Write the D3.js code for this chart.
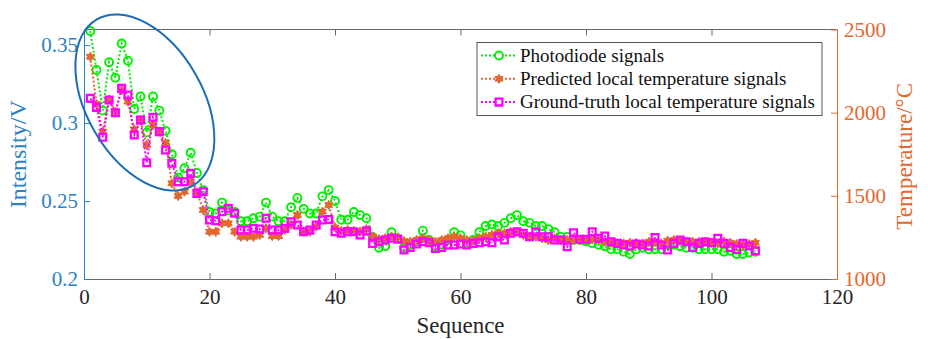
<!DOCTYPE html>
<html>
<head>
<meta charset="utf-8">
<script src="https://cdn.jsdelivr.net/npm/d3@7"></script>
<style>
  body { margin: 0; background: #fff; }
  svg text { font-family: "Liberation Serif", "DejaVu Serif", serif; }
</style>
</head>
<body>
<div id="chart"></div>
<script>
// photodiode intensity (V), sequence 1..107
var photodiode = [
  0.359, 0.334, 0.308, 0.339, 0.329, 0.351, 0.340, 0.309, 0.317, 0.294,
  0.317, 0.308, 0.295, 0.280, 0.265, 0.271, 0.281, 0.268, 0.257, 0.243,
  0.242, 0.249, 0.244, 0.243, 0.237, 0.237, 0.239, 0.240, 0.249, 0.240,
  0.237, 0.237, 0.246, 0.252, 0.245, 0.242, 0.242, 0.253, 0.257, 0.250,
  0.238, 0.238, 0.243, 0.241, 0.239, 0.227, 0.220, 0.221, 0.230, 0.226,
  0.220, 0.222, 0.224, 0.231, 0.225, 0.221, 0.222, 0.225, 0.230, 0.228,
  0.223, 0.225, 0.230, 0.234, 0.235, 0.234, 0.236, 0.239, 0.241, 0.237,
  0.236, 0.234, 0.234, 0.232, 0.230, 0.227, 0.227, 0.225, 0.225, 0.224,
  0.223, 0.222, 0.221, 0.219, 0.219, 0.2175, 0.216, 0.219, 0.220, 0.219,
  0.219, 0.219, 0.222, 0.222, 0.221, 0.220, 0.220, 0.219, 0.219, 0.219,
  0.219, 0.2175, 0.218, 0.216, 0.216, 0.217, 0.2175
];
// predicted local temperature (°C)
var predicted = [
  2336, 2052, 1886, 2080, 2006, 2136, 2066, 1900, 1956, 1806,
  1926, 1886, 1818, 1575, 1499, 1525, 1585, 1520, 1415, 1284,
  1284, 1335, 1335, 1284, 1254, 1254, 1254, 1265, 1305, 1258,
  1258, 1295, 1325, 1385, 1284, 1284, 1315, 1405, 1445, 1310,
  1290, 1295, 1290, 1285, 1300, 1256, 1240, 1245, 1255, 1250,
  1228, 1224, 1234, 1245, 1234, 1224, 1234, 1245, 1255, 1245,
  1234, 1230, 1245, 1254, 1265, 1275, 1275, 1284, 1284, 1265,
  1254, 1254, 1245, 1234, 1245, 1234, 1234, 1234, 1234, 1234,
  1238, 1234, 1224, 1218, 1214, 1214, 1218, 1218, 1214, 1224,
  1224, 1214, 1230, 1234, 1230, 1224, 1224, 1224, 1224, 1218,
  1214, 1224, 1218, 1210, 1204, 1210, 1218
];
// ground-truth local temperature (°C)
var groundTruth = [
  2086, 2032, 1852, 2076, 2000, 2146, 2106, 1866, 1956, 1699,
  1972, 1886, 1776, 1696, 1585, 1585, 1635, 1515, 1525, 1355,
  1350, 1405, 1425, 1395, 1295, 1295, 1305, 1300, 1365, 1295,
  1295, 1305, 1344, 1325, 1284, 1295, 1325, 1355, 1358, 1284,
  1275, 1284, 1284, 1265, 1289, 1214, 1224, 1234, 1245, 1239,
  1174, 1190, 1210, 1224, 1218, 1184, 1190, 1204, 1204, 1210,
  1204, 1214, 1218, 1224, 1218, 1254, 1234, 1275, 1284, 1275,
  1254, 1284, 1254, 1254, 1234, 1234, 1194, 1278, 1239, 1239,
  1284, 1245, 1258, 1224, 1214, 1204, 1198, 1210, 1204, 1198,
  1250, 1204, 1174, 1214, 1234, 1224, 1190, 1214, 1224, 1218,
  1245, 1214, 1190, 1178, 1214, 1198, 1170
];
var xTicks = [0, 20, 40, 60, 80, 100, 120];
var leftTicks = [0.2, 0.25, 0.3, 0.35];
var leftTickLabels = ["0.2", "0.25", "0.3", "0.35"];
var rightTicks = [1000, 1500, 2000, 2500];
var rightTickLabels = ["1000", "1500", "2000", "2500"];
var seriesNames = ["Photodiode signals", "Predicted local temperature signals", "Ground-truth local temperature signals"];
// highlighted region (data coords of the ellipse centre)
var ellipseCentre = [9.7, 0.3132];

var width = 928, height = 339;
var margin = {top: 29.5, right: 91, bottom: 60, left: 84};
var serif = "Liberation Serif, DejaVu Serif, serif";

var blue = "#2b83c6", orange = "#e2682f", green = "#00f000", pink = "#ff00ff", ink = "#262626";

var svg = d3.select("#chart").append("svg")
    .attr("width", width)
    .attr("height", height)
    .attr("font-family", serif);

var x = d3.scaleLinear().domain([0, 120]).range([margin.left, width - margin.right]);
var yL = d3.scaleLinear().domain([0.2, 0.36]).range([height - margin.bottom, margin.top]);
var yR = d3.scaleLinear().domain([1000, 2500]).range([height - margin.bottom, margin.top]);

// six pointed star for the predicted series
var hexagram = {
  draw: function(ctx, size) {
    var r = Math.sqrt(size) * 0.62, ri = r / Math.sqrt(3);
    for (var i = 0; i < 12; i++) {
      var a = -Math.PI / 2 + i * Math.PI / 6, rr = i % 2 ? ri : r;
      if (i == 0) ctx.moveTo(rr * Math.cos(a), rr * Math.sin(a));
      else ctx.lineTo(rr * Math.cos(a), rr * Math.sin(a));
    }
    ctx.closePath();
  }
};

// top border with ticks
svg.append("line")
    .attr("x1", x(0)).attr("x2", x(120))
    .attr("y1", margin.top).attr("y2", margin.top)
    .attr("stroke", "#666").attr("stroke-width", 1);
svg.append("g")
    .attr("transform", "translate(0," + margin.top + ")")
    .call(d3.axisTop(x).tickValues(xTicks).tickSize(-6).tickSizeOuter(0).tickFormat(""))
    .call(g => g.select(".domain").remove())
    .selectAll("line").attr("stroke", "#666");

// bottom axis
var gx = svg.append("g")
    .attr("transform", "translate(0," + (height - margin.bottom) + ")")
    .call(d3.axisBottom(x).tickValues(xTicks).tickSize(-6).tickSizeOuter(0).tickPadding(10))
    .attr("font-family", serif).attr("font-size", 21);
gx.select(".domain").attr("stroke", "#666");
gx.selectAll("line").attr("stroke", "#666");
gx.selectAll("text").attr("fill", ink);

// left axis
var gl = svg.append("g")
    .attr("transform", "translate(" + margin.left + ",0)")
    .call(d3.axisLeft(yL).tickValues(leftTicks).tickSize(-6).tickSizeOuter(0).tickPadding(6)
      .tickFormat((d, i) => leftTickLabels[i]))
    .attr("font-family", serif).attr("font-size", 21);
gl.select(".domain").attr("stroke", blue);
gl.selectAll("line").attr("stroke", blue);
gl.selectAll("text").attr("fill", blue);

// right axis
var gr = svg.append("g")
    .attr("transform", "translate(" + (width - margin.right) + ",0)")
    .call(d3.axisRight(yR).tickValues(rightTicks).tickSize(-6).tickSizeOuter(0).tickPadding(7)
      .tickFormat((d, i) => rightTickLabels[i]))
    .attr("font-family", serif).attr("font-size", 21);
gr.select(".domain").attr("stroke", orange);
gr.selectAll("line").attr("stroke", orange);
gr.selectAll("text").attr("fill", orange);

// axis titles
svg.append("text")
    .attr("x", (x(0) + x(120)) / 2).attr("y", 333)
    .attr("text-anchor", "middle").attr("font-size", 23).attr("fill", ink)
    .text("Sequence");
svg.append("text")
    .attr("transform", "translate(26," + ((margin.top + height - margin.bottom) / 2) + ") rotate(-90)")
    .attr("text-anchor", "middle").attr("font-size", 24).attr("fill", blue)
    .text("Intensity/V");
svg.append("text")
    .attr("transform", "translate(912," + ((margin.top + height - margin.bottom) / 2 + 2) + ") rotate(-90)")
    .attr("text-anchor", "middle").attr("font-size", 23).attr("fill", orange)
    .text("Temperature/°C");

// series
var series = [
  {values: photodiode, y: yL, color: green, sym: d3.symbolCircle, size: 50, fill: "none", sw: 1.9},
  {values: predicted, y: yR, color: orange, sym: hexagram, size: 56, fill: orange, sw: 1},
  {values: groundTruth, y: yR, color: pink, sym: d3.symbolSquare, size: 46, fill: "none", sw: 2.3}
];

series.forEach(function(s) {
  var line = d3.line().x((d, i) => x(i + 1)).y(d => s.y(d));
  svg.append("path")
      .datum(s.values)
      .attr("d", line)
      .attr("fill", "none")
      .attr("stroke", s.color)
      .attr("stroke-width", 2)
      .attr("stroke-dasharray", "2,2");
  svg.append("g").selectAll("path")
    .data(s.values)
    .join("path")
      .attr("transform", (d, i) => "translate(" + x(i + 1) + "," + s.y(d) + ")")
      .attr("d", d3.symbol(s.sym, s.size))
      .attr("fill", s.fill)
      .attr("stroke", s.color)
      .attr("stroke-width", s.sw);
});

// blue ellipse around the early part
svg.append("ellipse")
    .attr("transform", "translate(" + x(ellipseCentre[0]) + "," + yL(ellipseCentre[1]) + ") rotate(60)")
    .attr("rx", 96).attr("ry", 58)
    .attr("fill", "none")
    .attr("stroke", "#1b6db4")
    .attr("stroke-width", 2);

// legend
var legend = svg.append("g").attr("font-family", serif);
legend.append("rect")
    .attr("x", 477).attr("y", 42.5).attr("width", 345).attr("height", 73)
    .attr("fill", "#fff").attr("stroke", "#555").attr("stroke-width", 1);
var rows = legend.selectAll("g.row")
    .data(series)
    .join("g")
      .attr("class", "row")
      .attr("transform", (d, i) => "translate(0," + (55.5 + i * 23.3) + ")");
rows.append("line")
    .attr("x1", 481).attr("x2", 517)
    .attr("stroke", d => d.color).attr("stroke-width", 2).attr("stroke-dasharray", "2,2");
rows.append("path")
    .attr("transform", "translate(499,0)")
    .attr("d", d => d3.symbol(d.sym, d.size)())
    .attr("fill", d => d.fill == "none" ? "#fff" : d.fill)
    .attr("stroke", d => d.color)
    .attr("stroke-width", d => d.sw);
rows.append("text")
    .attr("x", 520).attr("dy", "0.33em")
    .attr("font-size", 19).attr("fill", "#111")
    .text((d, i) => seriesNames[i]);
</script>
</body>
</html>
